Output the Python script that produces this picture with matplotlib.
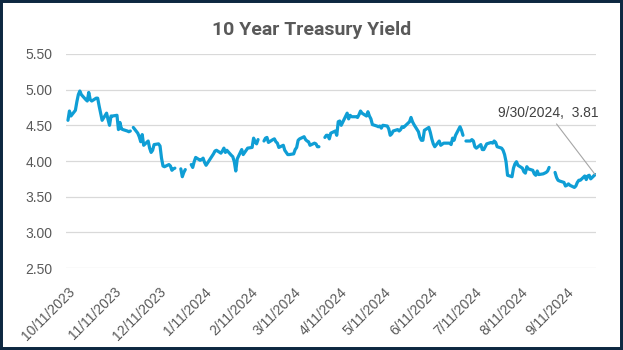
import matplotlib
matplotlib.use("Agg")
import matplotlib.pyplot as plt
import numpy as np
import pandas as pd
from matplotlib.patches import Rectangle

# 10 year treasury yield, one value per business day (None = holiday, line breaks there)
oct_2023 = [4.57, 4.70, 4.63, 4.71, 4.83, 4.93, 4.98, 4.93, 4.86, 4.84, 4.96, 4.86, 4.84, 4.88, 4.88]
nov_2023 = [4.77, 4.67, 4.57, 4.67, 4.58, 4.50, 4.63, 4.63, 4.64, 4.44, 4.54, 4.45, 4.44, 4.42, 4.41, 4.42,
            None, 4.47, 4.39, 4.34, 4.27, 4.37]
dec_2023 = [4.22, 4.28, 4.18, 4.12, 4.15, 4.23, 4.24, 4.21, 4.04, 3.93, 3.92, 3.95, 3.93, 3.87, 3.89, 3.90,
            None, 3.89, 3.78, 3.84, 3.88]
jan_2024 = [None, 3.95, 3.91, 3.99, 4.05, 4.01, 4.02, 4.04, 3.98, 3.94, 4.07, 4.10, 4.14, 4.15, 4.11, 4.14,
            4.18, 4.12, 4.15, 4.08, 4.06, 3.99]
feb_2024 = [3.86, 4.03, 4.16, 4.09, 4.12, 4.15, 4.18, 4.19, 4.32, 4.27, 4.24, 4.30, None, 4.28, 4.32, 4.33,
            4.26, 4.30, 4.31, 4.27, 4.25]
mar_2024 = [4.19, 4.22, 4.15, 4.12, 4.09, 4.09, 4.10, 4.16, 4.19, 4.29, 4.31, 4.34, 4.30, 4.28, 4.27, 4.22,
            4.25, 4.24, 4.20, 4.20, None]
apr_2024 = [4.33, 4.36, 4.36, 4.31, 4.39, 4.42, 4.36, 4.55, 4.56, 4.50, 4.63, 4.67, 4.59, 4.64, 4.62, 4.62,
            4.61, 4.65, 4.70, 4.67, 4.63, 4.69]
may_2024 = [4.63, 4.59, 4.51, 4.49, 4.48, 4.49, 4.46, 4.50, 4.49, 4.45, 4.36, 4.38, 4.42, 4.44, 4.42, 4.44,
            4.48, 4.47, 4.55, 4.61, 4.55, 4.51]
jun_2024 = [4.41, 4.33, 4.29, 4.29, 4.43, 4.47, 4.40, 4.31, 4.24, 4.20, 4.28, 4.22, 4.25, 4.25, 4.25, 4.23,
            4.32, 4.29, 4.36]
jul_2024 = [4.48, 4.43, 4.36, None, 4.28, 4.28, 4.30, 4.28, 4.20, 4.18, 4.23, 4.16, 4.16, 4.20, 4.24, 4.26,
            4.25, 4.28, 4.26, 4.20, 4.18, 4.15, 4.09]
aug_2024 = [3.99, 3.80, 3.78, 3.90, 3.96, 3.99, 3.94, 3.90, 3.85, 3.83, 3.92, 3.89, 3.87, 3.82, 3.80, 3.86,
            3.81, 3.82, 3.83, 3.84, 3.86, 3.91]
sep_2024 = [None, 3.84, 3.77, 3.73, 3.72, 3.70, 3.65, 3.66, 3.68, 3.66, 3.63, 3.65, 3.70, 3.73, 3.73, 3.79,
            3.74, 3.79, 3.80, 3.75, 3.81]

# weekdays with no row in the data at all
no_row_days = ['2024-01-15', '2024-05-27', '2024-06-19']

tick_dates = [pd.Timestamp(2023, 10, 11) + pd.DateOffset(months=i) for i in range(12)]
tick_labels = [f"{d.month}/{d.day}/{d.year}" for d in tick_dates]
y_ticks = [2.50, 3.00, 3.50, 4.00, 4.50, 5.00, 5.50]

days = pd.bdate_range('2023-10-11', '2024-09-30')
days = days[~days.isin(pd.to_datetime(no_row_days))]
yields = (oct_2023 + nov_2023 + dec_2023 + jan_2024 + feb_2024 + mar_2024 +
          apr_2024 + may_2024 + jun_2024 + jul_2024 + aug_2024 + sep_2024)
yields = np.array(yields, dtype=float)
assert len(days) == len(yields)

grey = '#595959'
fig = plt.figure(figsize=(6.23, 3.5), dpi=100)
ax = fig.add_axes([0.106, 0.234, 0.851, 0.612])

ax.plot(days, yields, color='#0F9ED5', lw=2.3, solid_joinstyle='round', solid_capstyle='round')

ax.set_ylim(2.5, 5.5)
ax.set_yticks(y_ticks)
ax.set_yticklabels([f"{v:.2f}" for v in y_ticks])
ax.set_xlim(days[0] - pd.Timedelta(hours=31), days[-1] + pd.Timedelta(hours=17))
ax.set_xticks(tick_dates)
ax.set_xticklabels(tick_labels, rotation=45, ha='right', va='top', rotation_mode='anchor')

ax.grid(axis='y', color='#d9d9d9', lw=0.9)
ax.set_axisbelow(True)
for s in ax.spines.values():
    s.set_visible(False)
ax.tick_params(length=0, labelcolor=grey, labelsize=10)
ax.tick_params(axis='x', pad=12)
ax.tick_params(axis='y', pad=10)
for lab in ax.get_xticklabels() + ax.get_yticklabels():
    lab.set_family('Liberation Sans')

ax.annotate(f"{days[-1].month}/{days[-1].day}/{days[-1].year},  {yields[-1]:.2f}",
            xy=(days[-1], yields[-1]), xytext=(0.88, 0.677), textcoords='figure fraction',
            ha='center', va='center', fontsize=10, color='#404040', family='Liberation Sans',
            arrowprops=dict(arrowstyle='-', color='#a6a6a6', lw=0.8, shrinkA=1, shrinkB=0))

fig.text(0.5, 1 - 30 / 350, '10 Year Treasury Yield', ha='center', va='center',
         fontsize=14, fontweight='bold', color=grey, family='Roboto')

fig.patches.append(Rectangle((0, 0), 1, 1, transform=fig.transFigure, fill=False,
                             edgecolor='#0E2841', lw=4.3))

fig.savefig('out.png', dpi=100)
